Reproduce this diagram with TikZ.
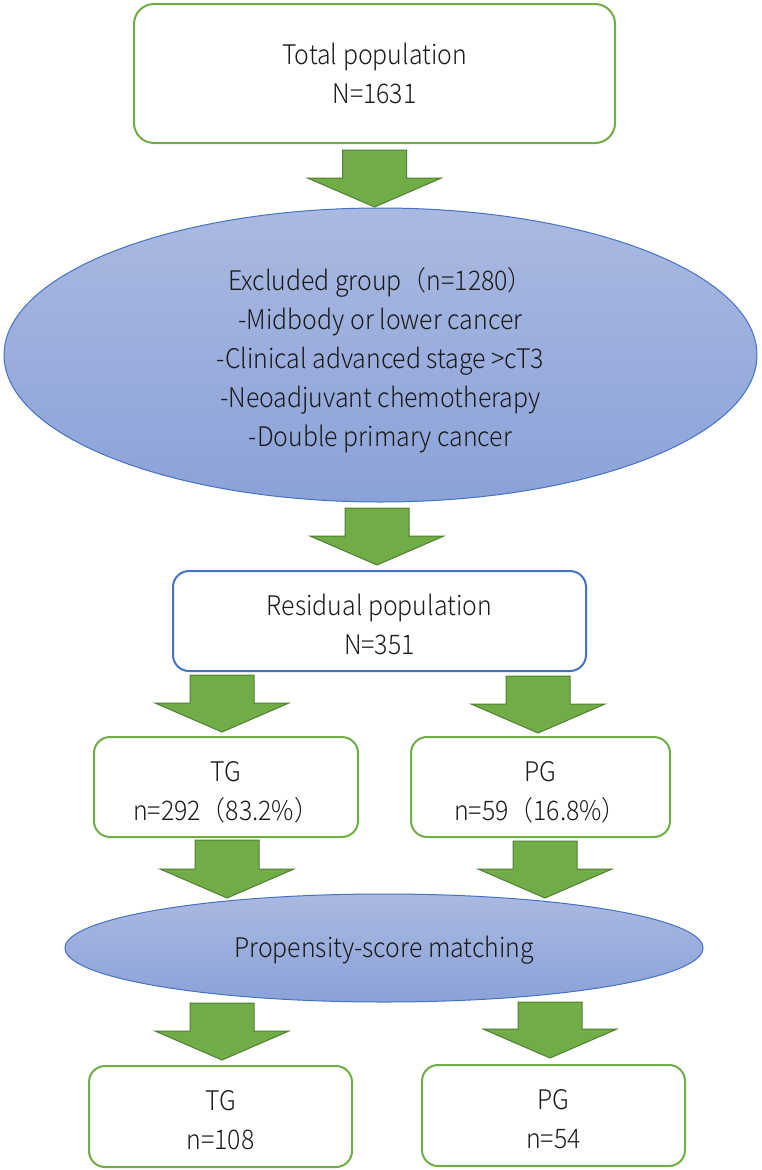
\documentclass[tikz,border=0pt]{standalone}
\usepackage{fontspec}
\setmainfont{Noto Sans CJK SC Light}[FakeStretch=0.92]
\usetikzlibrary{shapes.geometric}
\definecolor{gline}{HTML}{70AD47}
\definecolor{afill}{HTML}{70AD47}
\definecolor{aline}{HTML}{507E32}
\definecolor{bline}{HTML}{4472C4}
\definecolor{etop}{HTML}{AAB9E1}
\definecolor{ebot}{HTML}{8BA2D8}
\definecolor{txt}{HTML}{1A1A1A}
\tikzset{
  gbox/.style={draw=gline, line width=2pt, rounded corners=16pt, fill=white, inner sep=0pt},
  bbox/.style={gbox, draw=bline},
  ell/.style={ellipse, draw=bline, line width=1pt, top color=etop, bottom color=ebot, inner sep=0pt},
  lbl/.style={align=center, inner sep=0pt, text=txt},
  barrowsty/.style={fill=afill, draw=aline, line width=1pt, line join=miter},
}
\newcommand\barrow[3]{\filldraw[barrowsty] ({#1-32},#2) -- ({#1+32},#2) -- ({#1+32},{#3-29}) -- ({#1+67},{#3-29}) -- (#1,#3) -- ({#1-67},{#3-29}) -- ({#1-32},{#3-29}) -- cycle;}
\begin{document}
\begin{tikzpicture}[x=1pt,y=-1pt,font=\fontsize{27}{39}\selectfont]
\useasboundingbox[fill=white] (0,0) rectangle (761,1170);
\node[gbox, rounded corners=20pt, minimum width=481pt, minimum height=139pt] (total) at (374.5,73.5) {};
\node[lbl] (totalt) at ([yshift=0.5pt]total.center) {Total population\\N=1631};
\node[ell, minimum width=753pt, minimum height=294pt] (excl) at (380.5,355) {};
\node[lbl] (exclt) at ([yshift=-5pt]excl.center) {Excluded group（n=1280）\\-Midbody or lower cancer\\-Clinical advanced stage >cT3\\-Neoadjuvant chemotherapy\\-Double primary cancer};
\node[bbox, minimum width=413pt, minimum height=100pt] (resid) at (379.5,621) {};
\node[lbl] (residt) at ([yshift=-3.5pt]resid.center) {Residual population\\N=351};
\node[gbox, minimum width=264pt, minimum height=100pt] (tg) at (226,787) {};
\node[lbl] (tgt) at ([yshift=-5pt]tg.center) {TG\\n=292（83.2\%）};
\node[gbox, minimum width=259pt, minimum height=100pt] (pg) at (540.5,787) {};
\node[lbl] (pgt) at ([yshift=-5pt]pg.center) {PG\\n=59（16.8\%）};
\node[ell, minimum width=638pt, minimum height=108pt] (psm) at (384,948) {};
\node[lbl] (psmt) at ([yshift=-2pt]psm.center) {Propensity-score matching};
\node[gbox, minimum width=263pt, minimum height=101pt] (tg2) at (220.5,1116.5) {};
\node[lbl] (tg2t) at ([yshift=-4pt]tg2.center) {TG\\n=108};
\node[gbox, minimum width=263pt, minimum height=101pt] (pg2) at (553.5,1115.5) {};
\node[lbl] (pg2t) at ([yshift=-4pt]pg2.center) {PG\\n=54};
\barrow{374.5}{150}{207}
\barrow{377}{508}{565}
\barrow{222}{675}{732}
\barrow{538}{676}{733}
\barrow{227}{840}{898}
\barrow{545}{841}{898}
\barrow{222}{1003}{1060}
\barrow{550}{1002}{1058}
\end{tikzpicture}
\end{document}
